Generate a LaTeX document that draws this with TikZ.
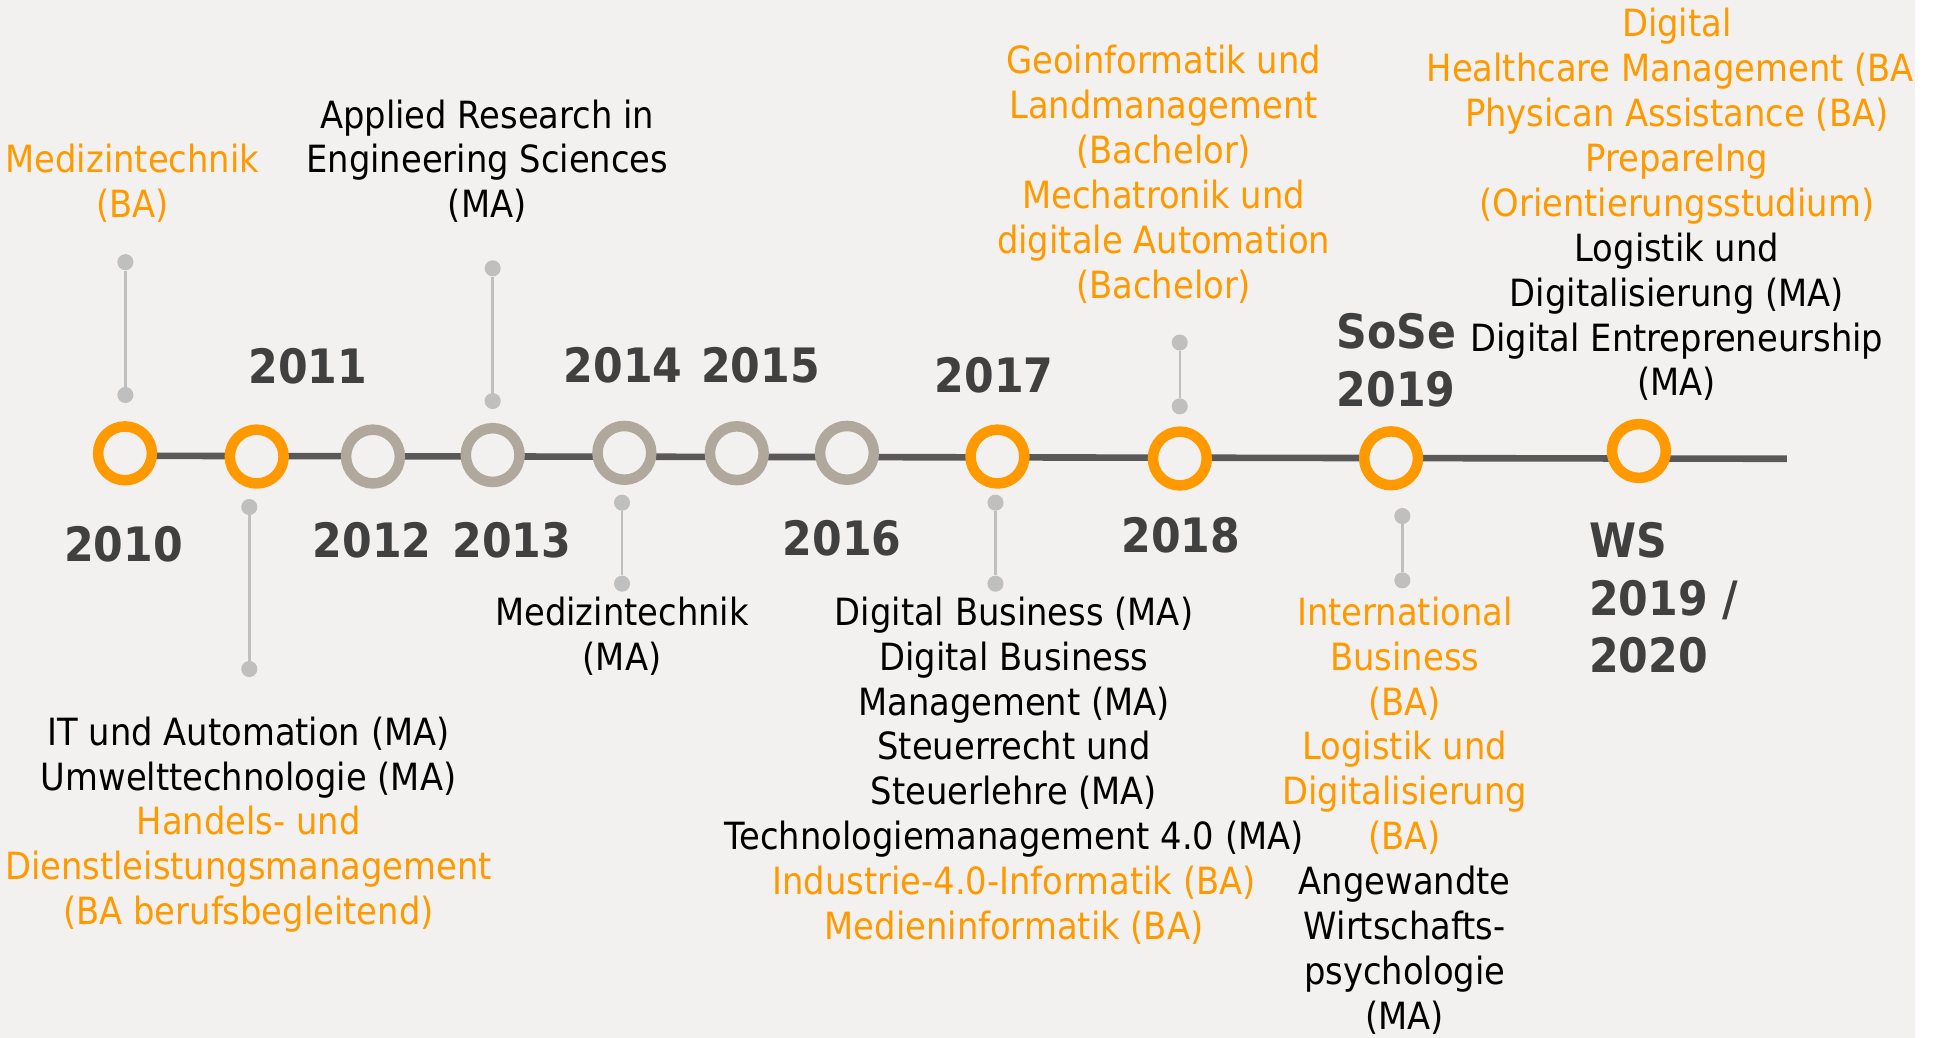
\documentclass[tikz,border=0pt]{standalone}
\usepackage{fontspec}
\setmainfont{DejaVu Sans}[FakeStretch=0.9]
\definecolor{bg}{HTML}{F2F1EF}
\definecolor{ora}{HTML}{FF9900}
\definecolor{ringgray}{HTML}{B0A89C}
\definecolor{axisgray}{HTML}{595959}
\definecolor{pingray}{HTML}{BFBFBF}
\definecolor{yeargray}{HTML}{404040}
\newcommand{\orl}[1]{\textcolor{ora}{#1}}
\begin{document}
\begin{tikzpicture}[x=0.6pt,y=-0.6pt,
  evt/.style={circle, draw=#1, line width=5.1pt, fill=bg, minimum size=26.1pt, inner sep=0pt},
  pindot/.style={circle, fill=pingray, minimum size=7.8pt, inner sep=0pt},
  pinline/.style={draw=pingray, line width=1.2pt},
  axisline/.style={draw=axisgray, line width=3.2pt},
  yearlbl/.style={text=yeargray, font=\bfseries\fontsize{23}{27.9}\selectfont, inner sep=0pt, outer sep=0pt},
  prog/.style={align=center, text=black, font=\fontsize{18.2}{21.8}\selectfont, inner sep=0pt, outer sep=0pt, anchor=north}]
\useasboundingbox (0,0) rectangle (1568,839);
\fill[bg] (0,0) rectangle (1548.6,839);

% timeline axis
\coordinate (lstart) at (101,368.6);
\coordinate (lend) at (1445,371);
\draw[axisline] (lstart) -- (lend);

% event circles
\node[evt=ora] (c2010) at (101.1,366.6) {};
\node[evt=ora] (c2011) at (207.6,369.2) {};
\node[evt=ringgray] (c2012) at (301.6,369.2) {};
\node[evt=ringgray] (c2013) at (398.4,368) {};
\node[evt=ringgray] (c2014) at (504.9,366.2) {};
\node[evt=ringgray] (c2015) at (595.8,366.5) {};
\node[evt=ringgray] (c2016) at (684.9,366.2) {};
\node[evt=ora] (c2017) at (806.6,369.2) {};
\node[evt=ora] (c2018) at (954.1,370.8) {};
\node[evt=ora] (c2019s) at (1124.9,370.6) {};
\node[evt=ora] (c2019w) at (1325.3,364.7) {};

% pins
\node[pindot] (p10a) at (101.4,212) {};
\node[pindot] (p10b) at (101.4,319.4) {};
\draw[pinline] (p10a) -- (p10b);
\node[pindot] (p11a) at (201.6,410) {};
\node[pindot] (p11b) at (201.6,541) {};
\draw[pinline] (p11a) -- (p11b);
\node[pindot] (p13a) at (398.4,217) {};
\node[pindot] (p13b) at (398.4,324.3) {};
\draw[pinline] (p13a) -- (p13b);
\node[pindot] (p14a) at (503,406.5) {};
\node[pindot] (p14b) at (503,472) {};
\draw[pinline] (p14a) -- (p14b);
\node[pindot] (p17a) at (805,406.5) {};
\node[pindot] (p17b) at (805,472) {};
\draw[pinline] (p17a) -- (p17b);
\node[pindot] (p18a) at (954,277) {};
\node[pindot] (p18b) at (954,328.6) {};
\draw[pinline] (p18a) -- (p18b);
\node[pindot] (p19a) at (1134,417.3) {};
\node[pindot] (p19b) at (1134,469.3) {};
\draw[pinline] (p19a) -- (p19b);

% year labels
\node[yearlbl, anchor=base] (y2010) at (100,454) {2010};
\node[yearlbl, anchor=base] (y2011) at (249,310) {2011};
\node[yearlbl, anchor=base] (y2012) at (301,451) {2012};
\node[yearlbl, anchor=base] (y2013) at (414,451) {2013};
\node[yearlbl, anchor=base] (y2014) at (504,309) {2014};
\node[yearlbl, anchor=base] (y2015) at (615,309) {2015};
\node[yearlbl, anchor=base] (y2016) at (681,449) {2016};
\node[yearlbl, anchor=base] (y2017) at (804,317) {2017};
\node[yearlbl, anchor=base] (y2018) at (955,447) {2018};
\node[yearlbl, anchor=north, align=center] (y2019s) at (1129,249.5) {\strut SoSe\\2019};
\node[yearlbl, anchor=north west, align=left] (y2019w) at (1285,418.5) {\strut WS\\2019 /\\2020};

% programme texts
\node[prog] (t2010) at (107,114.1) {\strut\orl{Medizintechnik}\\\orl{(BA)}};
\node[prog] (t2011) at (201,577.1) {\strut IT und Automation (MA)\\Umwelttechnologie (MA)\\\orl{Handels- und}\\\orl{Dienstleistungsmanagement}\\\orl{(BA berufsbegleitend)}};
\node[prog] (t2013) at (394,78.1) {\strut Applied Research in\\Engineering Sciences\\(MA)};
\node[prog] (t2014) at (503,480.1) {\strut Medizintechnik\\(MA)};
\node[prog] (t2017) at (820,480.1) {\strut Digital Business (MA)\\Digital Business\\Management (MA)\\Steuerrecht und\\Steuerlehre (MA)\\Technologiemanagement 4.0 (MA)\\\orl{Industrie-4.0-Informatik (BA)}\\\orl{Medieninformatik (BA)}};
\node[prog] (t2018) at (941,34.1) {\strut\orl{Geoinformatik und}\\\orl{Landmanagement}\\\orl{(Bachelor)}\\\orl{Mechatronik und}\\\orl{digitale Automation}\\\orl{(Bachelor)}};
\node[prog] (t2019s) at (1136,480.1) {\strut\orl{International}\\\orl{Business}\\\orl{(BA)}\\\orl{Logistik und}\\\orl{Digitalisierung}\\\orl{(BA)}\\Angewandte\\Wirtschafts-\\psychologie\\(MA)};
\node[prog] (t2019w) at (1356,4.1) {\strut\orl{Digital}\\\orl{Healthcare Management (BA)}\\\orl{Physican Assistance (BA)}\\\orl{PrepareIng}\\\orl{(Orientierungsstudium)}\\Logistik und\\Digitalisierung (MA)\\Digital Entrepreneurship\\(MA)};

\fill[white] (1548.6,0) rectangle (1568,839);
\end{tikzpicture}
\end{document}
